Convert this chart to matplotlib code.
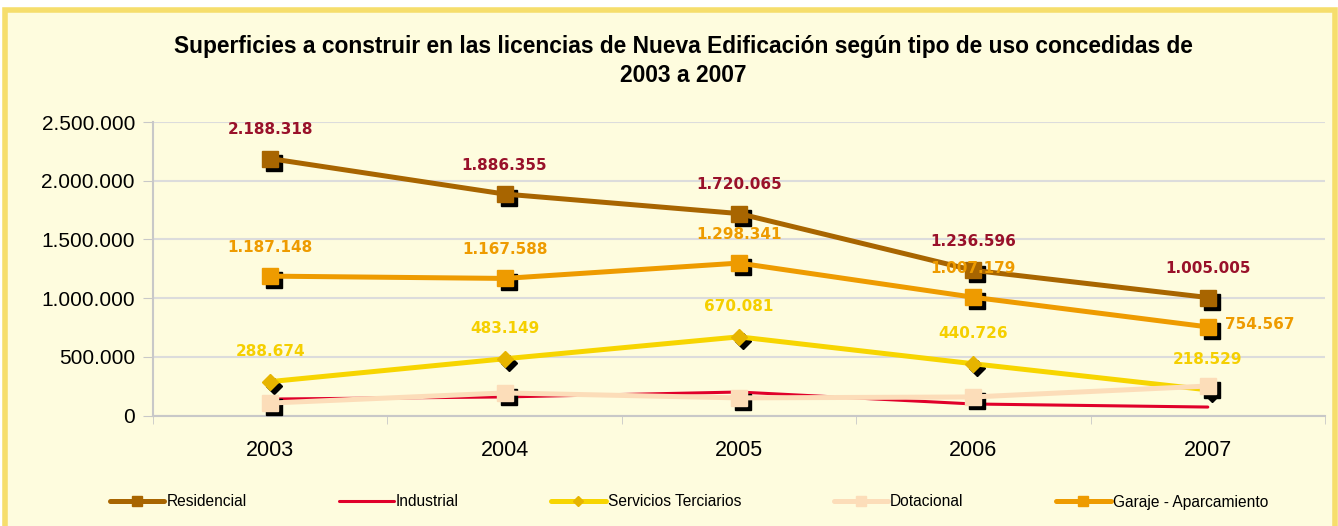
import matplotlib
matplotlib.use("Agg")
import matplotlib.pyplot as plt
import matplotlib.transforms as mtransforms
from matplotlib.patches import Rectangle

years = ['2003', '2004', '2005', '2006', '2007']
residencial = [2188318, 1886355, 1720065, 1236596, 1005005]
industrial = [140000, 158000, 200000, 98000, 72000]
servicios = [288674, 483149, 670081, 440726, 218529]
dotacional = [106000, 192000, 150000, 158000, 251000]
garaje = [1187148, 1167588, 1298341, 1007179, 754567]

bg = '#FEFCDE'
sans = ['Liberation Sans', 'DejaVu Sans']

def fmt(v):
    return f"{v:,}".replace(',', '.')

fig = plt.figure(figsize=(13.38, 5.26), dpi=100, facecolor='white')
# outer frame
fig.patches.append(Rectangle((5 / 1338, -0.05), 1330 / 1338, 1.05 - 10 / 526,
                             transform=fig.transFigure, facecolor=bg,
                             edgecolor='#F6DE6C', linewidth=4, zorder=-1))

ax = fig.add_axes([153 / 1338, 1 - 415.5 / 526, (1325 - 153) / 1338, 293.5 / 526])
ax.set_zorder(1)
ax.patch.set_alpha(0)

x = range(len(years))
shadow = mtransforms.offset_copy(ax.transData, fig=fig, x=4, y=-4, units='dots')

series = [
    ('Residencial', residencial, '#A86500', 's', '#A86500', 3.6, 11),
    ('Industrial', industrial, '#E0002A', None, None, 2.2, 0),
    ('Servicios Terciarios', servicios, '#F7D500', 'D', '#E6B400', 3.6, 8.5),
    ('Dotacional', dotacional, '#FCDDB9', 's', '#FCDDB9', 3.6, 11),
    ('Garaje - Aparcamiento', garaje, '#EE9B00', 's', '#EE9B00', 3.6, 11),
]

z = 3
for name, vals, col, mk, mcol, lw, ms in series:
    if mk:
        ax.plot(x, vals, linestyle='none', marker=mk, markersize=ms,
                color='black', transform=shadow, zorder=z)
    ax.plot(x, vals, color=col, linewidth=lw, marker=mk, markersize=ms,
            markerfacecolor=mcol, markeredgecolor=mcol, label=name,
            solid_capstyle='round', zorder=z + 1)
    z += 2

# data labels
for i, v in enumerate(residencial):
    ax.annotate(fmt(v), (i, v), xytext=(0, 29), textcoords='offset pixels',
                ha='center', va='center', fontsize=11, fontweight='bold',
                color='#99112A', zorder=20)
for i, v in enumerate(garaje):
    off = (0, 29) if i < 4 else (52, 2)
    ax.annotate(fmt(v), (i, v), xytext=off, textcoords='offset pixels',
                ha='center', va='center', fontsize=11, fontweight='bold',
                color='#EE9B00', zorder=20)
for i, v in enumerate(servicios):
    ax.annotate(fmt(v), (i, v), xytext=(0, 30), textcoords='offset pixels',
                ha='center', va='center', fontsize=11, fontweight='bold',
                color='#F5CF00', zorder=20)

ax.set_xlim(-0.5, 4.5)
ax.set_ylim(0, 2500000)
ax.set_yticks(range(0, 2500001, 500000))
ax.set_yticklabels([fmt(v) for v in range(0, 2500001, 500000)],
                   fontsize=15, family=sans)
ax.set_xticks(list(x))
ax.set_xticklabels(years, fontsize=15.5, family=sans)
ax.set_xticks([i - 0.5 for i in range(6)], minor=True)
ax.tick_params(axis='x', which='major', length=0, pad=18)
ax.tick_params(axis='x', which='minor', length=6, color='#C8C8C8')
ax.tick_params(axis='y', length=7, color='#C8C8C8', pad=6)
ax.grid(axis='y', color='#DCDCDC', linewidth=1.5, zorder=1)
ax.set_axisbelow(True)
for s in ['top', 'right']:
    ax.spines[s].set_visible(False)
for s in ['left', 'bottom']:
    ax.spines[s].set_color('#C8C8C8')
    ax.spines[s].set_linewidth(1.5)

fig.text(0.511, 1 - 61 / 526,
         'Superficies a construir en las licencias de Nueva Edificación según tipo de uso concedidas de\n2003 a 2007',
         ha='center', va='center', fontsize=16.4, fontweight='bold',
         family=sans, linespacing=1.35)

leg = fig.legend(loc='center', bbox_to_anchor=(689 / 1338, 1 - 502 / 526), ncol=5,
                 frameon=False, handlelength=3.5, handletextpad=0.13,
                 columnspacing=5.95, markerscale=0.6,
                 prop={'family': sans, 'size': 11.2})

fig.savefig('out.png', dpi=100, facecolor='white')
